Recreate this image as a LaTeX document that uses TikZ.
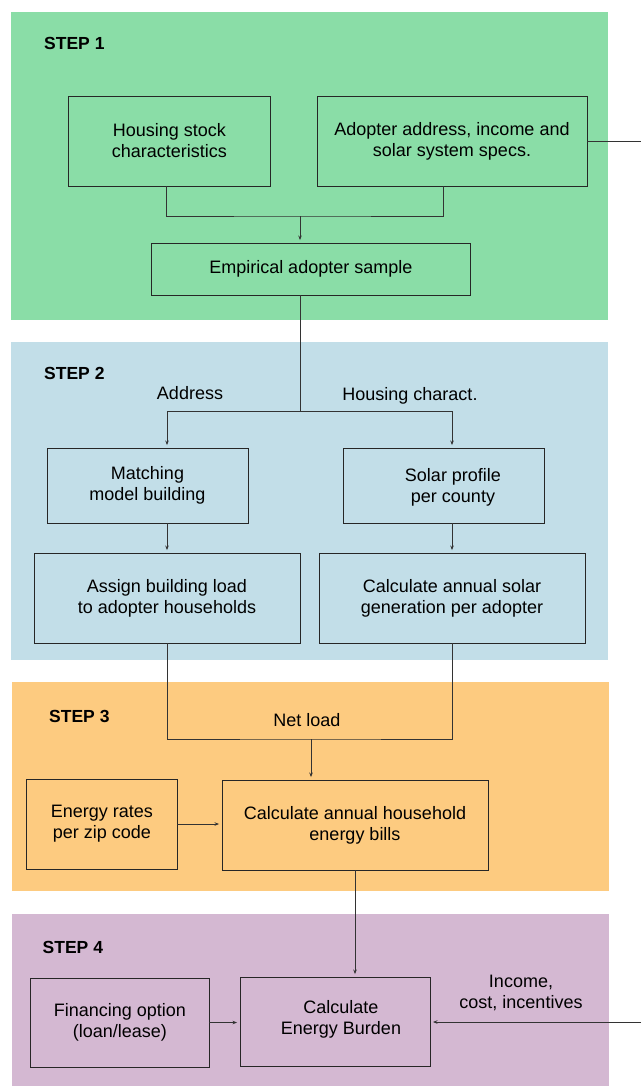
\documentclass[tikz,border=0pt]{standalone}
\usepackage{fontspec}
\setmainfont{Liberation Sans}
\usetikzlibrary{arrows.meta}
\definecolor{sgreen}{HTML}{8ADDA7}
\definecolor{sblue}{HTML}{C2DEE8}
\definecolor{sorange}{HTML}{FDCB80}
\definecolor{spurple}{HTML}{D4B8D2}
\begin{document}
\begin{tikzpicture}[x=1pt, y=-1pt,
  font=\fontsize{18}{21}\selectfont,
  box/.style={draw=black!85, line width=0.9pt, align=center, inner sep=0pt},
  steplabel/.style={font=\fontsize{17.5}{21}\selectfont\bfseries, anchor=west, inner sep=0pt},
  plain/.style={align=center, inner sep=0pt},
  conn/.style={draw=black!80, line width=0.9pt},
  arr/.style={conn, -{Stealth[length=4.5pt,width=3.5pt]}, shorten >=2.5pt}]
\useasboundingbox (0,0) rectangle (641,1086);
% bands
\fill[sgreen] (11,12) rectangle (608,320);
\fill[sblue] (11,342) rectangle (608,660);
\fill[sorange] (12,682) rectangle (609,891);
\fill[spurple] (12,914) rectangle (609,1086);
% step labels
\node[steplabel] (s1) at (44,43) {STEP 1};
\node[steplabel] (s2) at (44,373) {STEP 2};
\node[steplabel] (s3) at (49,716) {STEP 3};
\node[steplabel] (s4) at (42.5,947) {STEP 4};
% boxes
\node[box, minimum width=201.3pt, minimum height=90pt] (housing) at (169.35,141) {Housing stock\\characteristics};
\node[box, minimum width=270pt, minimum height=90pt] (adopter) at (452,141) {Adopter address, income and\\solar system specs.};
\node[box, minimum width=319.6pt, minimum height=52pt] (emp) at (310.8,269) {Empirical adopter sample};
\node[box, minimum width=201pt, minimum height=75pt] (match) at (147.5,485.5) {Matching\\model building};
\node[box, minimum width=201pt, minimum height=75pt] (solar) at (443.5,485.5) {};
\node[plain] (solarT) at (453,487) {Solar profile\\per county};
\node[box, minimum width=266pt, minimum height=90pt] (assign) at (167,598) {Assign building load\\to adopter households};
\node[box, minimum width=266pt, minimum height=90pt] (calcsolar) at (452,598) {Calculate annual solar\\generation per adopter};
\node[box, minimum width=150.4pt, minimum height=90pt] (rates) at (101.8,824) {Energy rates\\per zip code};
\node[box, minimum width=266pt, minimum height=90pt] (bills) at (355,825) {Calculate annual household\\energy bills};
\node[box, minimum width=178.3pt, minimum height=89pt] (fin) at (119.85,1022.5) {Financing option\\(loan/lease)};
\node[box, minimum width=190pt, minimum height=89pt] (burden) at (335,1021.5) {};
\node[plain] (burdenT) at (341,1019.5) {Calculate\\Energy Burden};
% labels
\node[plain] (addr) at (190,393) {Address};
\node[plain] (hchar) at (410,396) {Housing charact.};
\node[plain] (net) at (307,720) {Net load};
\node[plain] (inc) at (521,993) {Income,\\cost, incentives};
% junctions
\coordinate (j1) at (300,216);
\coordinate (j2) at (300,411);
\coordinate (j3) at (311,739);
\coordinate (ext1) at (641,141);
\coordinate (ext2) at (641,1022);
% connectors
\draw[conn] ([xshift=-3pt]housing.south) |- (j1) -| ([xshift=-9pt]adopter.south);
\draw[arr] (j1) -- (j1 |- emp.north);
\draw[conn] (j1 |- emp.south) -- (j2);
\draw[arr] (j2) -| (match.north -| assign.north);
\draw[arr] (j2) -| (solar.north -| calcsolar.north);
\draw[arr] (match.south -| assign.north) -- (assign.north);
\draw[arr] (solar.south -| calcsolar.north) -- (calcsolar.north);
\draw[conn] (assign.south) |- (j3) -| (calcsolar.south);
\draw[arr] (j3) -- (j3 |- bills.north);
\draw[arr] (rates.east) -- (rates.east -| bills.west);
\draw[arr] (bills.south) -- (bills.south |- burden.north);
\draw[arr] (fin.east) -- (fin.east -| burden.west);
\draw[conn] (adopter.east) -- (ext1);
\draw[arr] (ext2) -- (ext2 -| burden.east);
\end{tikzpicture}
\end{document}
